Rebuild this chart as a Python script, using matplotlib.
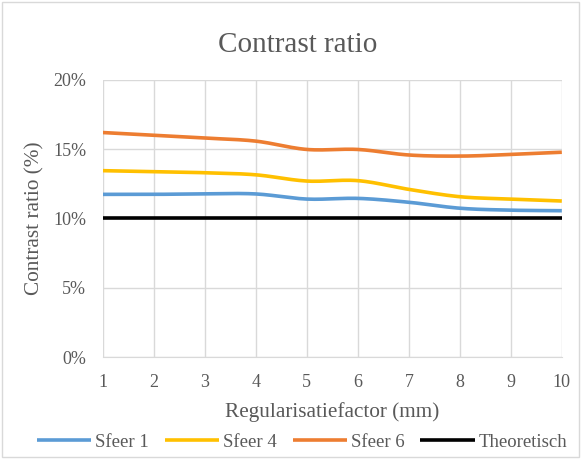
import numpy as np
import matplotlib.pyplot as plt
from matplotlib.patches import Rectangle

# Regularisation factor (mm) and measured contrast ratios (%)
factor = [1, 2, 3, 4, 5, 6, 7, 8, 9, 10]
sfeer_1 = [11.74, 11.74, 11.78, 11.77, 11.40, 11.45, 11.17, 10.74, 10.60, 10.56]
sfeer_4 = [13.45, 13.38, 13.30, 13.15, 12.70, 12.73, 12.10, 11.57, 11.40, 11.26]
sfeer_6 = [16.20, 16.00, 15.80, 15.58, 14.98, 14.98, 14.58, 14.50, 14.62, 14.78]
theoretisch = [10, 10, 10, 10, 10, 10, 10, 10, 10, 10]

series = [
    ("Sfeer 1", sfeer_1, "#5B9BD5"),
    ("Sfeer 4", sfeer_4, "#FFC000"),
    ("Sfeer 6", sfeer_6, "#ED7D31"),
    ("Theoretisch", theoretisch, "#000000"),
]


def smooth(x, y, n=20):
    # Catmull-Rom curve through the points, like Excel's smoothed lines
    x = np.asarray(x, float)
    y = np.asarray(y, float)
    px = np.concatenate([[2 * x[0] - x[1]], x, [2 * x[-1] - x[-2]]])
    py = np.concatenate([[2 * y[0] - y[1]], y, [2 * y[-1] - y[-2]]])
    xs, ys = [], []
    t = np.linspace(0, 1, n, endpoint=False)
    for i in range(1, len(px) - 2):
        for p, out in ((px, xs), (py, ys)):
            p0, p1, p2, p3 = p[i - 1], p[i], p[i + 1], p[i + 2]
            out.extend(0.5 * (2 * p1 + (-p0 + p2) * t
                              + (2 * p0 - 5 * p1 + 4 * p2 - p3) * t ** 2
                              + (-p0 + 3 * p1 - 3 * p2 + p3) * t ** 3))
    xs.append(x[-1])
    ys.append(y[-1])
    return np.array(xs), np.array(ys)


plt.rcParams["font.family"] = ["Liberation Serif", "DejaVu Serif"]

fig = plt.figure(figsize=(5.81, 4.59), dpi=100)
ax = fig.add_axes([0.177, 0.222, 0.790, 0.604])

for label, values, color in series:
    sx, sy = smooth(factor, values)
    ax.plot(sx, sy, color=color, linewidth=2.6, label=label,
            solid_capstyle="butt")

ax.set_xlim(1, 10)
ax.set_ylim(0, 20)
ax.set_xticks(factor)
ax.set_yticks([0, 5, 10, 15, 20])
ax.set_yticklabels(["0%", "5%", "10%", "15%", "20%"])
ax.grid(True, color="#D9D9D9", linewidth=1)
ax.set_axisbelow(True)
for side in ["top", "right", "left"]:
    ax.spines[side].set_visible(False)
ax.spines["bottom"].set_color("#D9D9D9")
ax.tick_params(length=0, labelsize=13, colors="#595959", pad=12)

ax.set_xlabel("Regularisatiefactor (mm)", fontsize=15.3, color="#595959",
              labelpad=8)
ax.set_ylabel("Contrast ratio (%)", fontsize=15.3, color="#595959",
              labelpad=6)
fig.text(0.513, 0.902, "Contrast ratio", ha="center", va="center",
         fontsize=21, color="#595959")

fig.legend(loc="center", bbox_to_anchor=(0.52, 0.036), ncol=4, frameon=False,
           fontsize=13.5, labelcolor="#595959", handlelength=2.9,
           columnspacing=0.85, handletextpad=0.2)

fig.patches.append(Rectangle((0.004, 0.004), 0.992, 0.992,
                             transform=fig.transFigure, fill=False,
                             edgecolor="#D9D9D9", linewidth=1))

fig.savefig("out.png", dpi=100)
